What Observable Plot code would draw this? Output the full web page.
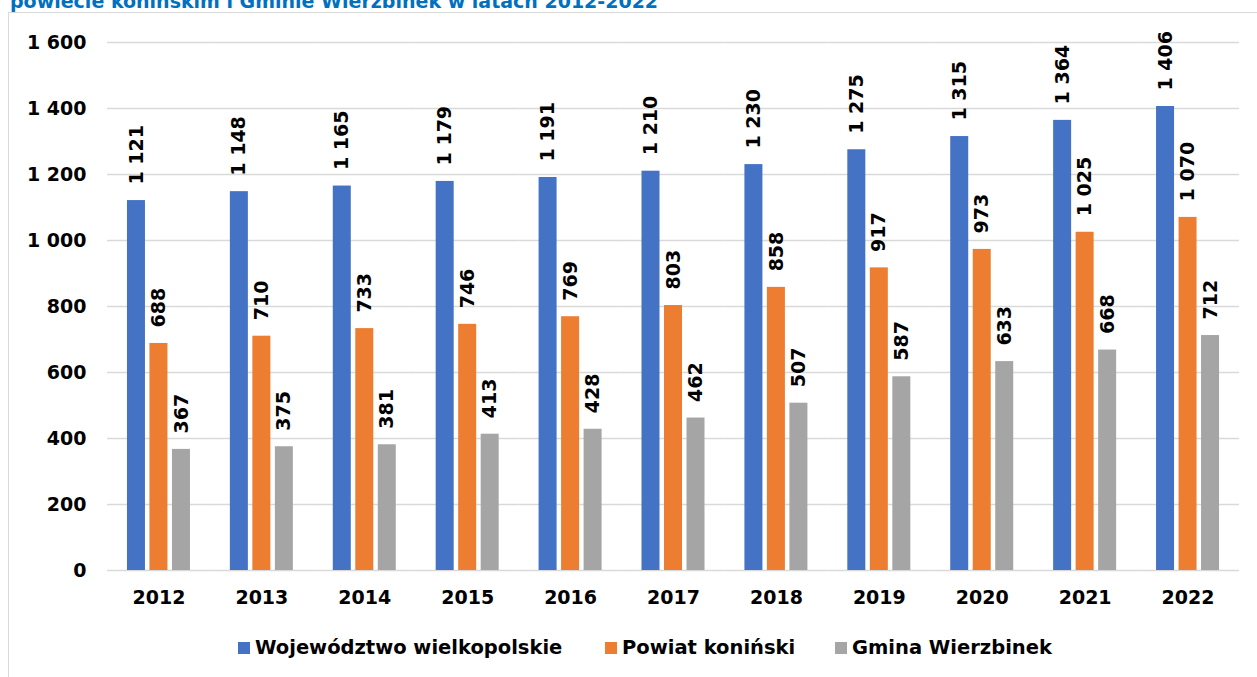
<!DOCTYPE html>
<html><head><meta charset="utf-8">
<script src="https://cdn.jsdelivr.net/npm/d3@7"></script>
<script src="https://cdn.jsdelivr.net/npm/@observablehq/plot@0.6"></script>
<style>
html,body{margin:0;padding:0;background:#fff;overflow:hidden;width:1257px;height:677px}
#wrap{position:relative;width:1257px;height:677px;font-family:"DejaVu Sans",sans-serif;font-weight:bold;overflow:hidden}
#frame{position:absolute;left:8px;top:12px;width:1400px;height:800px;border:1.5px solid #d9d9d9;box-sizing:border-box}
#title{position:absolute;left:10px;top:-8px;font-size:19px;line-height:19px;color:#0070C0;white-space:nowrap}
#chart{position:absolute;left:0;top:0}
.leg{position:absolute;top:636px;height:24px;line-height:24px;display:flex;align-items:center;font-size:19.5px;color:#000;white-space:nowrap}
.sw{width:12px;height:12px;margin-right:5px;flex:none}
</style>
</head><body>
<div id="wrap">
  <div id="frame"></div>
  <div id="title">powiecie konińskim i Gminie Wierzbinek w latach 2012-2022</div>
  <div id="chart"></div>
  <div id="legend"></div>
</div>
<script>
const years = ["2012","2013","2014","2015","2016","2017","2018","2019","2020","2021","2022"];
const series = ["Województwo wielkopolskie","Powiat koniński","Gmina Wierzbinek"];
const colors = ["#4472C4","#ED7D31","#A5A5A5"];
const wojewodztwo = [1121,1148,1165,1179,1191,1210,1230,1275,1315,1364,1406];
const powiat = [688,710,733,746,769,803,858,917,973,1025,1070];
const gmina = [367,375,381,413,428,462,507,587,633,668,712];
const yTicks = [0,200,400,600,800,1000,1200,1400,1600];
const legendLeft = [238,605,835];

const values = [wojewodztwo, powiat, gmina];
const rows = years.flatMap((yr, i) => series.map((s, j) => ({year: yr, series: s, value: values[j][i]})));
const fmt = v => d3.format(",")(v).replace(/,/g, " ");

const chart = Plot.plot({
  width: 1257, height: 625,
  marginTop: 42, marginBottom: 55, marginLeft: 107, marginRight: 18,
  style: {fontFamily: '"DejaVu Sans", sans-serif', fontWeight: "bold", fontSize: "19px", color: "#000", background: "transparent", overflow: "visible"},
  facet: {data: rows, x: "year", label: null, marginLeft: 0, marginRight: 0},
  fx: {domain: years, paddingInner: 0, paddingOuter: 0, round: false, axis: "bottom", tickSize: 0, tickPadding: 20, label: null},
  x: {domain: series, axis: null, paddingInner: 0.2, paddingOuter: 0.887, round: false},
  y: {domain: [0, 1600], ticks: yTicks, tickFormat: fmt, tickSize: 0, tickPadding: 21, label: null},
  color: {domain: series, range: colors},
  marks: [
    Plot.ruleY(yTicks, {stroke: "#d9d9d9", strokeWidth: 1.5}),
    Plot.barY(rows, {x: "series", y: "value", fill: "series"}),
    Plot.text(rows, {x: "series", y: "value", text: d => fmt(d.value), rotate: -90, textAnchor: "start", dy: -16, fill: "#000", fontSize: 19, fontWeight: "bold"})
  ]
});
document.getElementById("chart").appendChild(chart);

const legend = document.getElementById("legend");
series.forEach((s, i) => {
  const item = document.createElement("div");
  item.className = "leg";
  item.style.left = legendLeft[i] + "px";
  const sw = document.createElement("div");
  sw.className = "sw";
  sw.style.background = colors[i];
  const t = document.createElement("span");
  t.textContent = s;
  item.appendChild(sw); item.appendChild(t);
  legend.appendChild(item);
});
</script>
</body></html>
